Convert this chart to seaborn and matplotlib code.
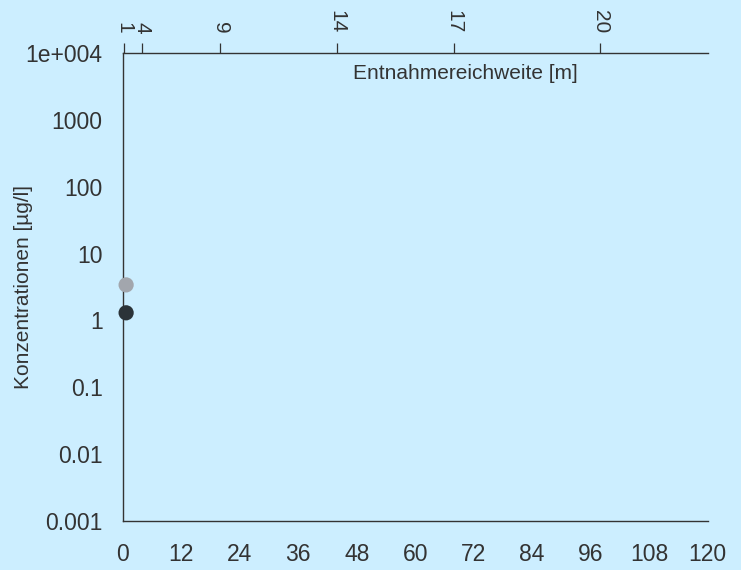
import pandas as pd
import matplotlib.pyplot as plt
import matplotlib.ticker as mticker
import seaborn as sns

# Daten
abstand = [0.7, 0.7]
konzentration = [3.4, 1.3]
serie = ['A', 'B']
farben = ['#a2a6ad', '#2b3338']

x_ticks = [0, 12, 24, 36, 48, 60, 72, 84, 96, 108, 120]
y_ticks = [0.001, 0.01, 0.1, 1, 10, 100, 1000, 10000]
y_labels = ['0.001', '0.01', '0.1', '1', '10', '100', '1000', '1e+004']
top_pos = [0.3, 4, 20, 44, 68, 98]
top_labels = ['1', '4', '9', '14', '17', '20']

df = pd.DataFrame({'abstand': abstand, 'konz': konzentration, 'serie': serie})

sns.set_style('white')
plt.rcParams['font.family'] = ['Liberation Sans', 'DejaVu Sans']
bg = '#cceeff'
txt = '#333333'

fig = plt.figure(figsize=(7.41, 5.70), dpi=100, facecolor=bg)
ax = fig.add_axes([0.1656, 0.086, 0.7894, 0.821], facecolor=bg)

sns.scatterplot(data=df, x='abstand', y='konz', hue='serie', palette=farben,
                s=120, edgecolor='none', legend=False, ax=ax, clip_on=False, zorder=5)

ax.set_yscale('log')
ax.set_xlim(0, 120)
ax.set_ylim(0.001, 10000)
ax.set_xticks(x_ticks)
ax.set_yticks(y_ticks)
ax.yaxis.set_major_formatter(mticker.FixedFormatter(y_labels))
ax.yaxis.set_minor_locator(mticker.LogLocator(base=10, subs=range(2, 10), numticks=20))
ax.yaxis.set_minor_formatter(mticker.NullFormatter())

for s in ['left', 'bottom', 'top']:
    ax.spines[s].set_visible(True)
    ax.spines[s].set_color(txt)
    ax.spines[s].set_linewidth(1.0)
ax.spines['right'].set_visible(False)

ax.tick_params(axis='both', which='major', direction='out', length=7, width=0.9,
               colors=txt, labelsize=16.5, labelcolor=txt)
ax.tick_params(axis='y', which='minor', direction='out', length=3, width=0.8, colors=txt)
ax.tick_params(axis='x', which='major', pad=9, length=7)
ax.tick_params(axis='y', which='major', pad=7.5)
ax.set_xlabel('')
ax.set_ylabel('Konzentrationen [µg/l]', fontsize=15, color=txt)
ax.yaxis.set_label_coords(-0.153, 0.5)

top = ax.secondary_xaxis('top')
top.set_xticks(top_pos)
top.set_xticklabels(top_labels, rotation=-90)
top.tick_params(direction='out', length=7, width=0.9, colors=txt, labelsize=15,
                labelcolor=txt, pad=7)
top.spines['top'].set_visible(False)

ax.text(0.585, 0.957, 'Entnahmereichweite [m]', transform=ax.transAxes,
        ha='center', va='center', fontsize=15, color=txt)

fig.savefig('out.png', dpi=100, facecolor=bg)
